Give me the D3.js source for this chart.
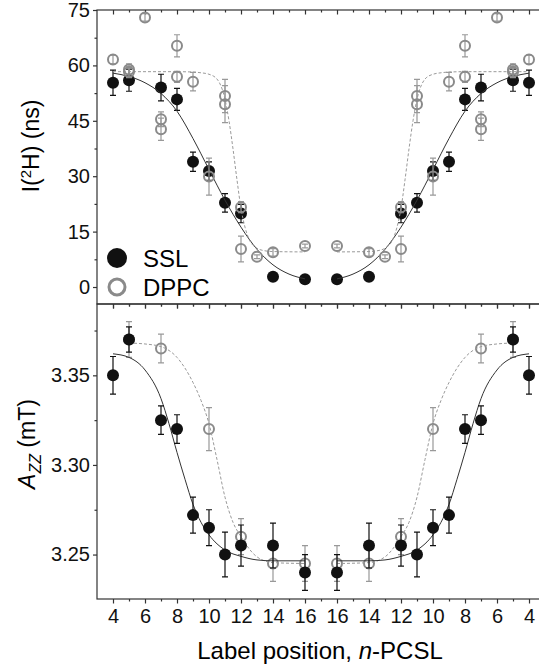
<!DOCTYPE html>
<html>
<head>
<meta charset="utf-8">
<script src="https://cdn.jsdelivr.net/npm/d3@7"></script>
<style>
  body { margin: 0; background: #fff; }
  svg { display: block; font-family: Arial, "Liberation Sans", sans-serif; }
</style>
</head>
<body>
<div id="chart"></div>
<script>
// label positions printed on each half of the mirrored x axis (n-PCSL)
const labelTicks = [4, 6, 8, 10, 12, 14, 16];

// top panel, I(2H) in ns
const sslLifetimeN = [4, 5, 7, 8, 9, 10, 11, 12, 14, 16];
const sslLifetime = [55.3, 56.0, 54.0, 50.8, 33.9, 31.4, 22.8, 19.9, 2.8, 2.1];
const sslLifetimeErr = [3.4, 3.0, 3.6, 3.0, 2.6, 2.5, 2.5, 2.5, 0.5, 0.5];

const dppcLifetimeN = [4, 5, 5, 6, 7, 7, 8, 8, 9, 10, 11, 11, 12, 12, 13, 14, 16];
const dppcLifetime = [61.6, 58.9, 58.2, 73.0, 45.4, 42.7, 65.3, 56.9, 55.6, 29.9, 51.7, 49.5, 21.6, 10.3, 8.2, 9.4, 11.1];
const dppcLifetimeErr = [1.2, 1.5, 1.5, 1.0, 2.0, 3.0, 3.0, 1.5, 2.5, 5.0, 4.5, 5.0, 1.5, 3.5, 0.5, 1.0, 0.5];

// fitted curves
const sslLifetimeFitN = [4, 5, 6, 7, 8, 9, 10, 11, 12, 13, 14, 15, 16];
const sslLifetimeFit = [57.9, 57.0, 55.3, 52.4, 47.6, 40.2, 31.8, 23.5, 16.2, 10.2, 6.0, 3.5, 2.2];
const dppcLifetimeFitN = [4, 8, 9, 9.5, 10, 10.5, 11, 11.25, 11.5, 11.75, 12, 12.25, 12.5, 13, 13.5, 14, 16];
const dppcLifetimeFit = [58.3, 58.3, 58.2, 58.0, 57.6, 56.3, 50.8, 45.0, 37.4, 29.0, 21.3, 16.2, 13.0, 10.5, 9.8, 9.6, 9.5];

// bottom panel, Azz in mT
const sslHfcN = [4, 5, 7, 8, 9, 10, 11, 12, 14, 16];
const sslHfc = [3.350, 3.370, 3.325, 3.320, 3.272, 3.265, 3.250, 3.255, 3.255, 3.240];
const sslHfcErr = [0.0105, 0.007, 0.008, 0.008, 0.010, 0.010, 0.0125, 0.0115, 0.0125, 0.010];

const dppcHfcN = [5, 7, 10, 12, 14, 16];
const dppcHfc = [3.370, 3.365, 3.320, 3.260, 3.245, 3.245];
const dppcHfcErr = [0.010, 0.008, 0.012, 0.010, 0.010, 0.010];

const sslHfcFitN = [4, 5, 6, 7, 7.5, 8, 8.5, 9, 9.5, 10, 11, 12, 13, 14, 16];
const sslHfcFit = [3.362, 3.360, 3.353, 3.337, 3.323, 3.307, 3.292, 3.278, 3.268, 3.261, 3.2525, 3.249, 3.247, 3.2465, 3.2465];
const dppcHfcFitN = [5, 6, 7, 8, 9, 9.5, 10, 10.5, 11, 11.5, 12, 13, 14, 16];
const dppcHfcFit = [3.368, 3.3675, 3.366, 3.360, 3.346, 3.336, 3.323, 3.303, 3.282, 3.268, 3.260, 3.2487, 3.2455, 3.245];

const SSL_COLOR = '#111';
const DPPC_COLOR = '#8a8a8a';
const AXIS_COLOR = '#333';

// the right half of the x axis repeats the series mirrored, position = 34 - n
const mirrorPos = (n, side) => side === 0 ? n : 34 - n;

class MirrorPanel {

    constructor(_config, _layers) {
        this.config = {
            svg: _config.svg,
            top: _config.top,
            bottom: _config.bottom,
            left: 97,
            right: 545,
            yDomain: _config.yDomain,
            yMajor: _config.yMajor,
            yMinor: _config.yMinor,
            yFormat: _config.yFormat,
            xLabels: _config.xLabels || false
        };
        this.layers = _layers;
        this.initVis();
    }

    initVis() {
        let vis = this;
        const c = vis.config;

        vis.xScale = d3.scaleLinear()
            .domain([3, 31])
            .range([c.left, c.right]);

        vis.yScale = d3.scaleLinear()
            .domain(c.yDomain)
            .range([c.bottom, c.top]);

        vis.g = c.svg.append('g');

        const xMajor = labelTicks.concat(labelTicks.map(n => 34 - n)).sort((a, b) => a - b);
        const xMinor = d3.range(5, 30, 2);
        const xFormat = p => p <= 17 ? p : 34 - p;

        // top frame: ticks point inward
        vis.g.append('g')
            .attr('transform', `translate(0,${c.top})`)
            .call(d3.axisTop(vis.xScale).tickValues(xMajor).tickSize(-4.5).tickFormat(''));
        vis.g.append('g')
            .attr('transform', `translate(0,${c.top})`)
            .call(d3.axisTop(vis.xScale).tickValues(xMinor).tickSize(-2.5).tickFormat(''));

        // bottom axis: ticks point outward
        vis.xAxisG = vis.g.append('g')
            .attr('transform', `translate(0,${c.bottom})`)
            .call(d3.axisBottom(vis.xScale).tickValues(xMajor).tickSize(4.5).tickPadding(5)
                .tickFormat(c.xLabels ? xFormat : ''));
        vis.g.append('g')
            .attr('transform', `translate(0,${c.bottom})`)
            .call(d3.axisBottom(vis.xScale).tickValues(xMinor).tickSize(2.5).tickFormat(''));

        vis.yAxisG = vis.g.append('g')
            .attr('transform', `translate(${c.left},0)`)
            .call(d3.axisLeft(vis.yScale).tickValues(c.yMajor).tickSize(4).tickPadding(3).tickFormat(c.yFormat));
        vis.g.append('g')
            .attr('transform', `translate(${c.left},0)`)
            .call(d3.axisLeft(vis.yScale).tickValues(c.yMinor).tickSize(2.5).tickFormat(''));

        vis.g.selectAll('.domain').remove();
        vis.g.selectAll('.tick line')
            .attr('stroke', AXIS_COLOR)
            .attr('stroke-width', 1.2);
        vis.g.selectAll('.tick text')
            .attr('fill', '#111')
            .style('font-size', '20px')
            .style('font-family', 'Arial, "Liberation Sans", sans-serif');

        vis.g.append('rect')
            .attr('x', c.left)
            .attr('y', c.top)
            .attr('width', c.right - c.left)
            .attr('height', c.bottom - c.top)
            .attr('fill', 'none')
            .attr('stroke', AXIS_COLOR)
            .attr('stroke-width', 1.2);

        vis.chart = vis.g.append('g');

        vis.renderVis();
    }

    renderVis() {
        let vis = this;

        vis.line = d3.line()
            .x(d => vis.xScale(d.pos))
            .y(d => vis.yScale(d.value))
            .curve(d3.curveMonotoneX);

        vis.layers.forEach(layer => {
            const color = layer.kind === 'ssl' ? SSL_COLOR : DPPC_COLOR;

            if (layer.type === 'curve') {
                [0, 1].forEach(side => {
                    const pts = layer.n.map((n, i) => ({pos: mirrorPos(n, side), value: layer.values[i]}))
                        .sort((a, b) => a.pos - b.pos);
                    vis.chart.append('path')
                        .datum(pts)
                        .attr('d', vis.line)
                        .attr('fill', 'none')
                        .attr('stroke', layer.kind === 'ssl' ? '#333' : '#9a9a9a')
                        .attr('stroke-width', 1)
                        .attr('stroke-dasharray', layer.kind === 'ssl' ? null : '3,2');
                });
                return;
            }

            const pts = [];
            [0, 1].forEach(side => {
                layer.n.forEach((n, i) => pts.push({
                    pos: mirrorPos(n, side), value: layer.values[i], err: layer.errs[i]
                }));
            });

            const bars = vis.chart.append('g')
                .attr('stroke', layer.kind === 'ssl' ? SSL_COLOR : '#999')
                .attr('stroke-width', 1.2);
            bars.selectAll('.bar')
                .data(pts)
                .join('path')
                .attr('class', 'bar')
                .attr('fill', 'none')
                .attr('d', d => {
                    const x = vis.xScale(d.pos);
                    const y0 = vis.yScale(d.value - d.err);
                    const y1 = vis.yScale(d.value + d.err);
                    return `M${x},${y0}V${y1}M${x - 3},${y0}H${x + 3}M${x - 3},${y1}H${x + 3}`;
                });

            const marks = vis.chart.append('g');
            if (layer.kind === 'ssl') {
                marks.selectAll('circle')
                    .data(pts)
                    .join('circle')
                    .attr('cx', d => vis.xScale(d.pos))
                    .attr('cy', d => vis.yScale(d.value))
                    .attr('r', 6)
                    .attr('fill', color);
            } else {
                marks.selectAll('circle')
                    .data(pts)
                    .join('circle')
                    .attr('cx', d => vis.xScale(d.pos))
                    .attr('cy', d => vis.yScale(d.value))
                    .attr('r', 5)
                    .attr('fill', 'none')
                    .attr('stroke', color)
                    .attr('stroke-width', 2);
            }
        });
    }
}

const svg = d3.select('#chart').append('svg')
    .attr('width', 539)
    .attr('height', 670);

svg.append('rect')
    .attr('width', 539)
    .attr('height', 670)
    .attr('fill', '#fff');

const topPanel = new MirrorPanel({
    svg: svg,
    top: 10,
    bottom: 304,
    yDomain: [-4.6, 75],
    yMajor: [0, 15, 30, 45, 60, 75],
    yMinor: [7.5, 22.5, 37.5, 52.5, 67.5],
    yFormat: d3.format('d')
}, [
    {type: 'points', kind: 'ssl', n: sslLifetimeN, values: sslLifetime, errs: sslLifetimeErr},
    {type: 'curve', kind: 'ssl', n: sslLifetimeFitN, values: sslLifetimeFit},
    {type: 'curve', kind: 'dppc', n: dppcLifetimeFitN, values: dppcLifetimeFit},
    {type: 'points', kind: 'dppc', n: dppcLifetimeN, values: dppcLifetime, errs: dppcLifetimeErr}
]);

const bottomPanel = new MirrorPanel({
    svg: svg,
    top: 304,
    bottom: 599,
    yDomain: [3.2252, 3.3898],
    yMajor: [3.25, 3.30, 3.35],
    yMinor: [3.275, 3.325, 3.375],
    yFormat: d3.format('.2f'),
    xLabels: true
}, [
    {type: 'points', kind: 'dppc', n: dppcHfcN, values: dppcHfc, errs: dppcHfcErr},
    {type: 'curve', kind: 'dppc', n: dppcHfcFitN, values: dppcHfcFit},
    {type: 'curve', kind: 'ssl', n: sslHfcFitN, values: sslHfcFit},
    {type: 'points', kind: 'ssl', n: sslHfcN, values: sslHfc, errs: sslHfcErr}
]);

// legend
const legend = svg.append('g');
legend.append('circle')
    .attr('cx', 117).attr('cy', 258).attr('r', 10)
    .attr('fill', SSL_COLOR);
legend.append('circle')
    .attr('cx', 117).attr('cy', 287).attr('r', 8)
    .attr('fill', 'none').attr('stroke', DPPC_COLOR).attr('stroke-width', 3);
legend.append('text')
    .attr('x', 143).attr('y', 266.5)
    .style('font-size', '24px')
    .text('SSL');
legend.append('text')
    .attr('x', 143).attr('y', 295.5)
    .style('font-size', '24px')
    .text('DPPC');

// axis titles
const yTitleTop = svg.append('text')
    .attr('transform', 'translate(39,146) rotate(-90)')
    .attr('text-anchor', 'middle')
    .style('font-size', '23px');
yTitleTop.append('tspan').text('I(');
yTitleTop.append('tspan').attr('dy', -8).style('font-size', '15px').text('2');
yTitleTop.append('tspan').attr('dy', 8).text('H) (ns)');

const yTitleBottom = svg.append('text')
    .attr('transform', 'translate(35,444) rotate(-90)')
    .attr('text-anchor', 'middle')
    .style('font-size', '23px');
yTitleBottom.append('tspan').style('font-style', 'italic').text('A');
yTitleBottom.append('tspan').attr('dy', 6).style('font-style', 'italic').style('font-size', '16px').text('ZZ');
yTitleBottom.append('tspan').attr('dy', -6).text(' (mT)');

const xTitle = svg.append('text')
    .attr('x', 320).attr('y', 659)
    .attr('text-anchor', 'middle')
    .style('font-size', '24px');
xTitle.append('tspan').text('Label position, ');
xTitle.append('tspan').style('font-style', 'italic').text('n');
xTitle.append('tspan').text('-PCSL');
</script>
</body>
</html>
